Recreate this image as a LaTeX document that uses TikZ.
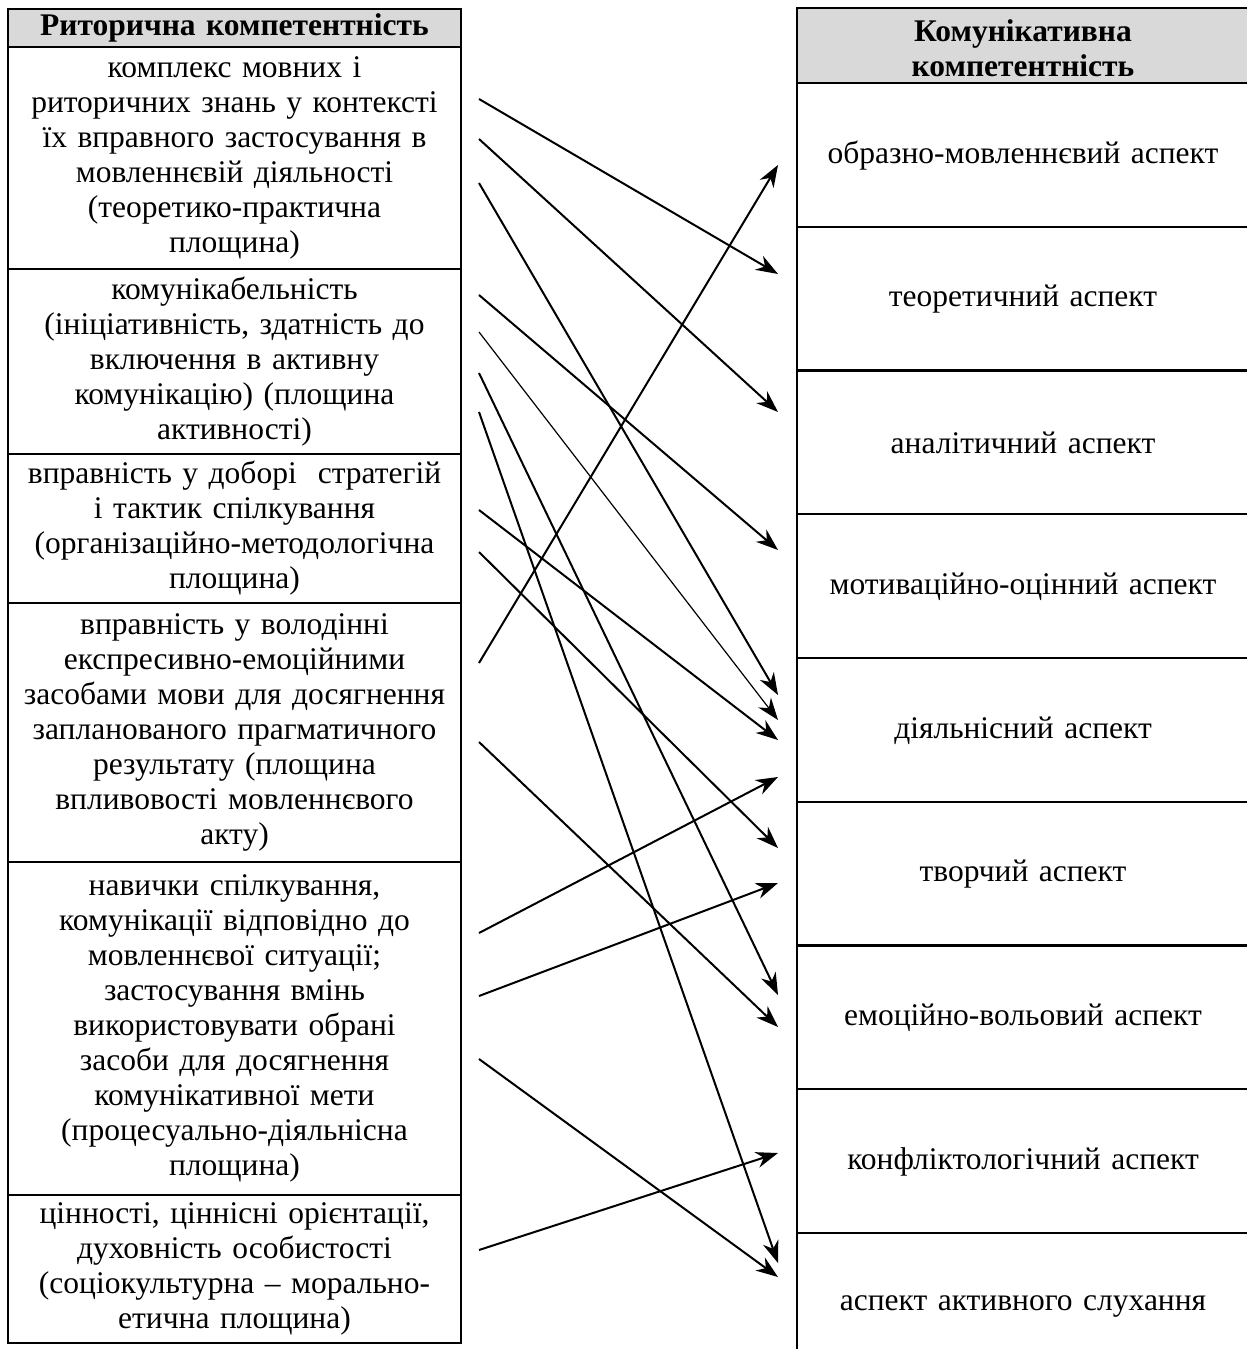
\documentclass[tikz,border=0pt]{standalone}
\usepackage{fontspec}
\setmainfont{Liberation Serif}
\usetikzlibrary{arrows.meta}
\definecolor{hdgray}{HTML}{D9D9D9}
\begin{document}
\begin{tikzpicture}[x=1pt,y=-1pt,
  txt/.style={inner sep=0pt, align=center, text width=452pt,
    font=\fontsize{31.5}{35}\selectfont},
  cell/.style={txt, draw, line width=2pt},
  lcell/.style={cell, minimum width=453pt},
  rbox/.style={draw, line width=2pt, inner sep=0pt, minimum width=480pt},
  hd/.style={fill=hdgray},
  hdtxt/.style={txt, font=\bfseries\fontsize{31.5}{35}\selectfont},
  arr/.style={line width=2pt, -{Stealth[length=22pt,width=16pt,inset=7pt]}},
  thinarr/.style={arr, line width=1.2pt}]
\clip (0,0) rectangle (1247,1349);
\fill[white] (0,0) rectangle (1247,1349);
% left table
\node[lcell,hd,hdtxt,draw,line width=2pt,minimum width=453pt,minimum height=38pt] (L0) at (234.5,28) {Риторична компетентність};
\node[lcell,minimum height=222pt] (L1) at (234.5,158) {комплекс мовних і\\риторичних знань у контексті\\їх вправного застосування в\\мовленнєвій діяльності\\(теоретико-практична\\площина)};
\node[lcell,minimum height=185pt] (L2) at (234.5,361.5) {комунікабельність\\(ініціативність, здатність до\\включення в активну\\комунікацію) (площина\\активності)};
\node[lcell,minimum height=149pt] (L3) at (234.5,528.5) {вправність у доборі \ стратегій\\і тактик спілкування\\(організаційно-методологічна\\площина)};
\node[lcell,minimum height=259pt] (L4) at (234.5,732.5) {вправність у володінні\\експресивно-емоційними\\засобами мови для досягнення\\запланованого прагматичного\\результату (площина\\впливовості мовленнєвого\\акту)};
\node[lcell,minimum height=333pt] (L5) at (234.5,1028.5) {навички спілкування,\\комунікації відповідно до\\мовленнєвої ситуації;\\застосування вмінь\\використовувати обрані\\засоби для досягнення\\комунікативної мети\\(процесуально-діяльнісна\\площина)};
\node[lcell,minimum height=148pt] (L6) at (234.5,1269) {цінності, ціннісні орієнтації,\\духовність особистості\\(соціокультурна – морально-\\етична площина)};
% right table (right border lies beyond the picture)
\node[rbox,hd,minimum height=75pt] (R0) at (1037,45.5) {};
\node[rbox,minimum height=143.75pt] (R1) at (1037,154.9) {};
\node[rbox,minimum height=143.75pt] (R2) at (1037,298.6) {};
\node[rbox,minimum height=143.75pt] (R3) at (1037,442.4) {};
\node[rbox,minimum height=143.75pt] (R4) at (1037,586.1) {};
\node[rbox,minimum height=143.75pt] (R5) at (1037,729.9) {};
\node[rbox,minimum height=143.75pt] (R6) at (1037,873.6) {};
\node[rbox,minimum height=143.75pt] (R7) at (1037,1017.4) {};
\node[rbox,minimum height=143.75pt] (R8) at (1037,1161.1) {};
\node[rbox,minimum height=143.75pt] (R9) at (1037,1304.9) {};
\node[hdtxt] (T0) at (1023,48) {Комунікативна\\компетентність};
\node[txt] (T1) at (1023,156) {образно-мовленнєвий аспект};
\node[txt] (T2) at (1023,299) {теоретичний аспект};
\node[txt] (T3) at (1023,443) {аналітичний аспект};
\node[txt] (T4) at (1023,587) {мотиваційно-оцінний аспект};
\node[txt] (T5) at (1023,731) {діяльнісний аспект};
\node[txt] (T6) at (1023,874) {творчий аспект};
\node[txt] (T7) at (1023,1018) {емоційно-вольовий аспект};
\node[txt] (T8) at (1023,1162) {конфліктологічний аспект};
\node[txt] (T9) at (1023,1306) {аспект активного слухання};
% connector end points
\coordinate (sA) at (479,99);   \coordinate (eA) at (778,274);
\coordinate (sB) at (479,139);  \coordinate (eB) at (778,412);
\coordinate (sC) at (479,183);  \coordinate (eC) at (778,695);
\coordinate (sD) at (479,295);  \coordinate (eD) at (778,550);
\coordinate (sE) at (479,332);  \coordinate (eE) at (778,720);
\coordinate (sF) at (479,373);  \coordinate (eF) at (778,995);
\coordinate (sG) at (479,412);  \coordinate (eG) at (778,1263);
\coordinate (sH) at (479,663);  \coordinate (eH) at (778,165);
\coordinate (sI) at (479,510);  \coordinate (eI) at (778,740);
\coordinate (sJ) at (479,552);  \coordinate (eJ) at (778,848);
\coordinate (sK) at (479,742);  \coordinate (eK) at (778,1027);
\coordinate (sL) at (479,933);  \coordinate (eL) at (778,777);
\coordinate (sM) at (479,996);  \coordinate (eM) at (778,883);
\coordinate (sN) at (479,1059); \coordinate (eN) at (778,1277);
\coordinate (sO) at (479,1250); \coordinate (eO) at (778,1153);
% connectors
\draw[arr] (sA) -- (eA);
\draw[arr] (sB) -- (eB);
\draw[arr] (sC) -- (eC);
\draw[arr] (sD) -- (eD);
\draw[thinarr] (sE) -- (eE);
\draw[arr] (sF) -- (eF);
\draw[arr] (sG) -- (eG);
\draw[arr] (sH) -- (eH);
\draw[arr] (sI) -- (eI);
\draw[arr] (sJ) -- (eJ);
\draw[arr] (sK) -- (eK);
\draw[arr] (sL) -- (eL);
\draw[arr] (sM) -- (eM);
\draw[arr] (sN) -- (eN);
\draw[arr] (sO) -- (eO);
\end{tikzpicture}
\end{document}
